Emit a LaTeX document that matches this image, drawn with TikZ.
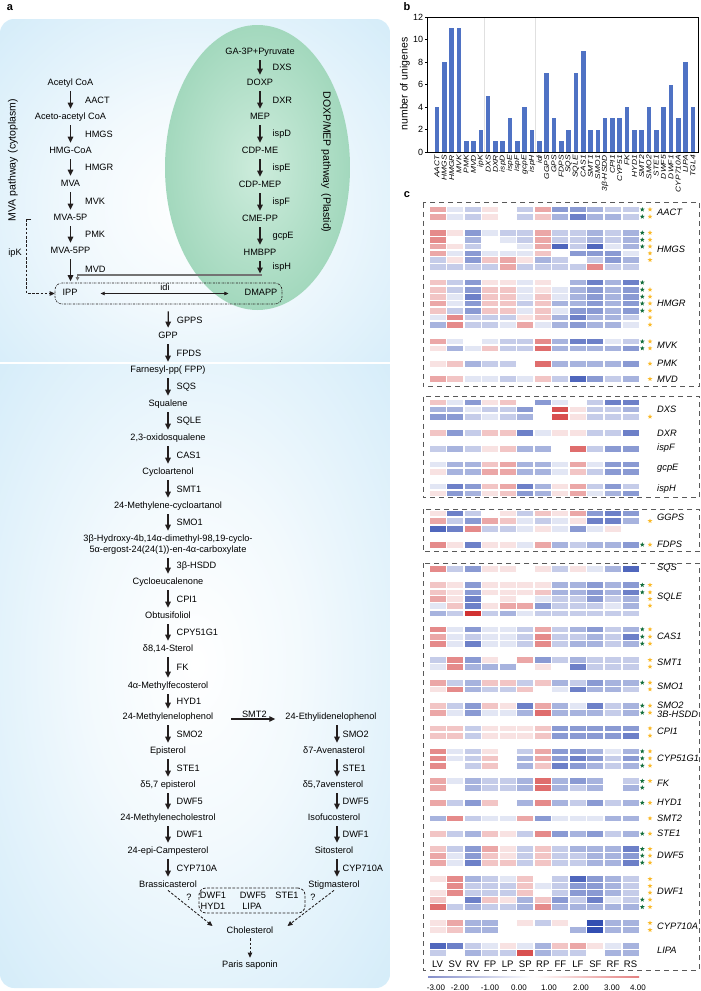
\documentclass[tikz,border=0pt]{standalone}
\usepackage{fontspec}
\setmainfont{Liberation Sans}
\usetikzlibrary{arrows.meta,shapes.geometric,calc}

\definecolor{pabg}{RGB}{192,227,246}
\colorlet{pamid}{white!80!pabg}
\definecolor{grin}{RGB}{205,236,220}
\definecolor{grout}{RGB}{120,196,158}
\definecolor{hb}{RGB}{30,60,170}
\definecolor{hr}{RGB}{205,30,30}
\definecolor{cbblue}{RGB}{10,30,150}
\definecolor{cbred}{RGB}{200,0,0}
\definecolor{barc}{RGB}{79,114,196}
\definecolor{arrc}{RGB}{35,30,30}
\definecolor{gstarc}{RGB}{20,110,60}
\definecolor{ostarc}{RGB}{250,185,40}

\pgfdeclareradialshading{bgshade}{\pgfpoint{0bp}{0bp}}{color(0bp)=(white);color(14bp)=(pamid);color(50bp)=(pabg);color(60bp)=(pabg)}
\pgfdeclareradialshading{grshade}{\pgfpoint{0bp}{0bp}}{color(0bp)=(grin);color(50bp)=(grout);color(60bp)=(grout)}
\pgfdeclarehorizontalshading{cbshade}{10bp}{color(0bp)=(cbblue);color(50bp)=(white);color(100bp)=(cbred)}

\tikzset{
  tx/.style={font=\fontsize{9.2}{10.8}\selectfont},
  comp/.style={tx, inner sep=1pt, text height=6.5pt, text depth=1.8pt},
  enz/.style={tx, inner sep=0pt, anchor=west},
  arr/.style={draw=arrc, line width=1.3pt, -{Triangle[length=6pt,width=5.5pt]}, shorten <=3pt, shorten >=3pt},
  darr/.style={draw=arrc, line width=0.85pt, dash pattern=on 2.6pt off 1.6pt, -{Triangle[length=5pt,width=4.5pt]}},
  grayl/.style={draw=black!55, line width=1.3pt},
  hmframe/.style={draw=black!65, line width=0.9pt, dash pattern=on 5pt off 4pt},
  rowlab/.style={font=\fontsize{9.3}{10}\selectfont\itshape, anchor=west, inner sep=0pt},
  gstar/.style={star, star points=5, star point ratio=2.4, fill=gstarc, inner sep=0pt, minimum size=5pt},
  ostar/.style={star, star points=5, star point ratio=2.4, fill=ostarc, inner sep=0pt, minimum size=5pt},
  plab/.style={font=\fontsize{11}{12}\selectfont\bfseries, inner sep=0pt},
}

\newcount\starno
\newcommand\hmrow[3]{%
  \foreach \v [count=\i from 0] in {#2}{%
    \ifnum\v<0 \edef\cc{hb!\the\numexpr -13*(\v)\relax!white}\else\edef\cc{hr!\the\numexpr 13*(\v)\relax!white}\fi
    \fill[fill=\cc] ({429.5+\i*17.55},{#1-2.8}) rectangle ++(16,5.6);
  }%
  \global\advance\starno by 1
  \ifcase#3\relax
  \or \node[ostar] (os\the\starno) at (650,#1) {};
  \or \node[gstar] (gs\the\starno) at (642.3,#1) {}; \node[ostar] (os\the\starno) at (650,#1) {};
  \or \node[gstar] (gs\the\starno) at (642.3,#1) {};
  \fi
}
\newcommand\pw[5]{\draw[arr] (#1) -- (#2) node[enz, midway, xshift=#5] (#3) {#4};}

\begin{document}
\begin{tikzpicture}[x=1pt,y=-1pt]
\useasboundingbox (0,0) rectangle (701,991);

% ---------------- panel a backgrounds
\begin{scope}
\clip (0,19) rectangle (390,361);
\shade[shading=bgshade, rounded corners=14pt] (0,19) rectangle (390,390);
\end{scope}
\begin{scope}
\clip (0,364) rectangle (390,988);
\shade[shading=bgshade, rounded corners=14pt] (0,340) rectangle (390,988);
\end{scope}
\shade[shading=grshade] (257.5,167.5) ellipse [x radius=92.5, y radius=142.5];

\node[plab] (la) at (10,8) {a};
\node[plab] (lb) at (407,7) {b};
\node[plab] (lc) at (407,195) {c};

\node[rotate=90, font=\fontsize{10.5}{11}\selectfont] (mvalab) at (13,160) {MVA pathway\hspace{4pt}(cytoplasm)};
\node[rotate=-90, font=\fontsize{10.5}{11}\selectfont] (doxplab) at (326,162) {DOXP/MEP pathway\hspace{5pt}(Plastid)};

% MVA column
\node[comp] (acoa) at (70.5,83) {Acetyl CoA};
\node[comp] (aacoa) at (70.5,117) {Aceto-acetyl CoA};
\node[comp] (hmgcoa) at (70.5,151) {HMG-CoA};
\node[comp] (mva) at (70.5,184) {MVA};
\node[comp] (mva5p) at (70.5,218) {MVA-5P};
\node[comp] (mva5pp) at (70.5,251) {MVA-5PP};
\pw{acoa}{aacoa}{eAACT}{AACT}{14pt}
\pw{aacoa}{hmgcoa}{eHMGS}{HMGS}{14pt}
\pw{hmgcoa}{mva}{eHMGR}{HMGR}{14pt}
\pw{mva}{mva5p}{eMVK}{MVK}{14pt}
\pw{mva5p}{mva5pp}{ePMK}{PMK}{14pt}

% DOXP column
\node[comp] (ga3p) at (260,52) {GA-3P+Pyruvate};
\node[comp] (doxp) at (260,83) {DOXP};
\node[comp] (mep) at (260,117) {MEP};
\node[comp] (cdpme) at (260,151) {CDP-ME};
\node[comp] (cdpmep) at (260,185) {CDP-MEP};
\node[comp] (cmepp) at (260,219) {CME-PP};
\node[comp] (hmbpp) at (260,253) {HMBPP};
\pw{ga3p}{doxp}{eDXS}{DXS}{12pt}
\pw{doxp}{mep}{eDXR}{DXR}{12pt}
\pw{mep}{cdpme}{eispD}{ispD}{12pt}
\pw{cdpme}{cdpmep}{eispE}{ispE}{12pt}
\pw{cdpmep}{cmepp}{eispF}{ispF}{12pt}
\pw{cmepp}{hmbpp}{egcpE}{gcpE}{12pt}

% IPP box
\node[draw=arrc, line width=0.6pt, dash pattern=on 2pt off 1pt on 0.6pt off 1pt, rounded corners=7pt, minimum width=227pt, minimum height=21pt, inner sep=0pt] (ippb) at (168.5,293.5) {};
\node[comp] (ipp) at (70,293.5) {IPP};
\node[comp] (dmapp) at (261,293.5) {DMAPP};
\draw[draw=arrc, line width=0.6pt, {Triangle[length=4pt,width=3.5pt]}-{Triangle[length=4pt,width=3.5pt]}, shorten <=22pt, shorten >=15pt] (ipp.east) -- (dmapp.west) node[midway, above=-1pt, tx, xshift=4pt] (eidi) {idi};

\draw[arr, shorten >=1.5pt] (mva5pp) -- (mva5pp |- ippb.north) node[enz, midway, xshift=14pt] (eMVD) {MVD};
\coordinate (isc) at (262,275);
\coordinate (isd) at (77.5,275);
\draw[arr, shorten >=1.5pt] (hmbpp) -- (hmbpp |- isc) node[enz, midway, xshift=12pt] (eispH) {ispH};
\draw[grayl, -{Triangle[length=3.5pt,width=3.5pt]}] (isc) -- (isd) -- ([yshift=2pt]isd |- ippb.north);

\coordinate (ipk1) at (31,219.3);
\draw[darr] (ipk1) -- ++(-4.3,0) |- (ippb.west);
\node[tx, inner sep=0pt] (eipk) at (15,253) {ipK};

% main column
\node[comp] (gpp) at (168,336) {GPP};
\node[comp] (fpp) at (168,370) {Farnesyl-pp( FPP)};
\node[comp] (squal) at (168,404) {Squalene};
\node[comp] (oxsq) at (168,438) {2,3-oxidosqualene};
\node[comp] (cycloart) at (168,472) {Cycloartenol};
\node[comp] (mcyc) at (168,506) {24-Methylene-cycloartanol};
\node[tx, align=center, inner sep=1pt] (hydroxy) at (168,544.5) {3β-Hydroxy-4b,14α-dimethyl-98,19-cyclo-\\5α-ergost-24(24(1))-en-4α-carboxylate};
\node[comp] (cycloeuc) at (168,582) {Cycloeucalenone};
\node[comp] (obtus) at (168,616) {Obtusifoliol};
\node[comp] (sterol) at (168,649) {δ8,14-Sterol};
\node[comp] (mfeco) at (168,686) {4α-Methylfecosterol};
\node[comp] (mlp) at (168,717) {24-Methylenelophenol};
\node[comp] (epist) at (168,751) {Episterol};
\node[comp] (d57) at (168,785) {δ5,7 episterol};
\node[comp] (mchol) at (168,818) {24-Methylenecholestrol};
\node[comp] (epicamp) at (168,851) {24-epi-Campesterol};
\node[comp] (brass) at (168,885) {Brassicasterol};

\draw[arr, shorten <=7pt] (ippb) -- (gpp) node[enz, midway, xshift=8pt, yshift=-3pt] (eGPPS) {GPPS};
\pw{gpp}{fpp}{eFPDS}{FPDS}{8pt}
\pw{fpp}{squal}{eSQS}{SQS}{8pt}
\pw{squal}{oxsq}{eSQLE}{SQLE}{8pt}
\pw{oxsq}{cycloart}{eCAS1}{CAS1}{8pt}
\pw{cycloart}{mcyc}{eSMT1}{SMT1}{8pt}
\pw{mcyc}{hydroxy}{eSMO1}{SMO1}{8pt}
\pw{hydroxy}{cycloeuc}{eHSDD}{3β-HSDD}{8pt}
\pw{cycloeuc}{obtus}{eCPI1}{CPI1}{8pt}
\pw{obtus}{sterol}{eCPY}{CPY51G1}{8pt}
\pw{sterol}{mfeco}{eFK}{FK}{8pt}
\pw{mfeco}{mlp}{eHYD1}{HYD1}{8pt}
\pw{mlp}{epist}{eSMO2}{SMO2}{8pt}
\pw{epist}{d57}{eSTE1}{STE1}{8pt}
\pw{d57}{mchol}{eDWF5}{DWF5}{8pt}
\pw{mchol}{epicamp}{eDWF1}{DWF1}{8pt}
\pw{epicamp}{brass}{eCYP}{CYP710A}{8pt}

% right column
\coordinate (rcx) at (337,700);
\node[comp] (elp) at (331,717) {24-Ethylidenelophenol};
\node[comp] (avena) at (334,751) {δ7-Avenasterol};
\node[comp] (d57a) at (333,785) {δ5,7avensterol};
\node[comp] (isofu) at (334,818) {Isofucosterol};
\node[comp] (sito) at (334,851) {Sitosterol};
\node[comp] (stig) at (334,885) {Stigmasterol};
\draw[arr] (elp.south -| rcx) -- (avena.north -| rcx) node[enz, midway, xshift=5pt] (rSMO2) {SMO2};
\draw[arr] (avena.south -| rcx) -- (d57a.north -| rcx) node[enz, midway, xshift=5pt] (rSTE1) {STE1};
\draw[arr] (d57a.south -| rcx) -- (isofu.north -| rcx) node[enz, midway, xshift=5pt] (rDWF5) {DWF5};
\draw[arr] (isofu.south -| rcx) -- (sito.north -| rcx) node[enz, midway, xshift=5pt] (rDWF1) {DWF1};
\draw[arr] (sito.south -| rcx) -- (stig.north -| rcx) node[enz, midway, xshift=5pt] (rCYP) {CYP710A};

\draw[arr, shorten <=17pt, shorten >=9pt] ([yshift=-2pt]mlp.east) -- ([yshift=-2pt]elp.west) node[midway, above, tx, inner sep=1pt, xshift=5pt] (eSMT2) {SMT2};

% bottom
\node[draw=arrc, line width=0.8pt, dash pattern=on 2.6pt off 1.6pt, rounded corners=7pt, minimum width=106pt, minimum height=25pt, inner sep=0pt] (qbox) at (252,900.5) {};
\node[comp] (q1) at (213,896) {DWF1};
\node[comp] (q2) at (253,896) {DWF5};
\node[comp] (q3) at (287,896) {STE1};
\node[comp] (q4) at (213,907) {HYD1};
\node[comp] (q5) at (252,907) {LIPA};
\node[comp] (qm1) at (189,898) {?};
\node[comp] (qm2) at (313,898) {?};
\node[comp] (chol) at (250,931) {Cholesterol};
\node[comp] (paris) at (250,965) {Paris saponin};
\draw[darr] (brass.south) -- ([xshift=-13pt,yshift=5pt]chol.west);
\draw[darr] (stig.south) -- ([xshift=13pt,yshift=5pt]chol.east);
\draw[darr, shorten <=2pt, shorten >=2pt] (chol) -- (paris);

% ---------------- panel b
\draw[black!12, line width=0.5pt] (484.5,17) -- (484.5,152) (535.7,17) -- (535.7,152);
\foreach \v [count=\i from 0] in {4,8,11,11,1,1,2,5,1,1,3,1,4,2,1,7,3,1,2,7,9,2,2,3,3,3,4,2,2,4,2,4,6,3,8,4}{
  \fill[barc] ({437+\i*7.31-2.3},152) rectangle ({437+\i*7.31+2.3},{152-\v*11.25});
}
\draw[black, line width=0.7pt] (427,17) rectangle (698,152);
\foreach \k in {0,2,4,6,8,10,12}{
  \draw[line width=0.6pt] (427,{152-\k*11.25}) -- ++(-2.5,0) node[left, inner sep=1pt, font=\fontsize{9}{10}\selectfont] (yt\k) {\k};
}
\node[rotate=90, font=\fontsize{10.5}{12}\selectfont] (ylab) at (405,84) {number of unigenes};
\foreach \t [count=\i from 0] in {AACT,HMGS,HMGR,MVK,PMK,MVD,ipK,DXS,DXR,ispD,ispE,ispF,gcpE,ispH,idi,GGPS,GPS,FDPS,SQS,SQLE,CAS1,SMT1,SMO1,3β-HSDD,CPI1,CYP51,FK,HYD1,SMT2,SMO2,STE1,DWF5,DWF1,CYP710A,LIPA,TGL4}{
  \node[rotate=90, anchor=east, inner sep=0pt, font=\fontsize{7}{8}\selectfont\itshape] (bl\i) at ({437+\i*7.31},155) {\scalebox{1.2}[1]{\t}};
}

% ---------------- panel c
\draw[hmframe] (423,202.7) rectangle (699.5,386.7);
\draw[hmframe] (423,396.7) rectangle (699.5,497.7);
\draw[hmframe] (423,509) rectangle (699.5,551.7);
\draw[hmframe] (423,563.3) rectangle (699.5,970);

% AACT
\hmrow{209.5}{3,-1,-2,1,0,-2,3,-4,-4,-3,-2,-2}{2}
\hmrow{216.7}{3,-1,-2,1,0,-2,2,-3,-5,-3,-3,-2}{2}
% HMGS
\hmrow{232.8}{4,1,-4,-1,-2,-2,3,-2,-2,-3,-2,-3}{2}
\hmrow{239.8}{4,0,-3,0,-1,-2,3,-2,-2,-3,-2,-3}{2}
\hmrow{246.5}{3,1,-2,0,0,-1,3,-6,-2,-6,-1,-3}{2}
\hmrow{253.3}{3,-1,-4,-1,-1,-1,2,0,-4,-4,-4,-1}{1}
\hmrow{260}{-2,1,-4,2,3,1,-3,-2,0,-2,-4,-3}{1}
\hmrow{266.8}{-2,-2,-2,-2,3,-2,-2,-2,-2,4,-2,-2}{0}
% HMGR
\hmrow{282.5}{2,-2,-4,1,1,-1,1,0,-3,-5,-3,-5}{3}
\hmrow{289.7}{2,-2,-4,2,2,-1,1,-1,-3,-4,-3,-4}{2}
\hmrow{296.7}{2,-1,-5,2,2,-1,2,-1,-3,-4,-3,-4}{2}
\hmrow{303.5}{3,-1,-4,2,2,-2,2,-3,-3,-4,-3,-4}{2}
\hmrow{310.7}{2,-2,-4,2,2,-1,2,-1,-4,-4,-3,-4}{2}
\hmrow{317.5}{-1,4,-2,-2,-2,1,2,-3,-5,-3,-3,-2}{1}
\hmrow{324.7}{-3,4,-2,-2,-1,3,-1,-3,-4,-3,-3,-1}{1}
% MVK PMK MVD
\hmrow{341.5}{3,-1,0,-1,-2,-2,4,-3,-5,-5,-1,-2}{2}
\hmrow{348.3}{1,-3,-1,2,-2,-2,5,-3,-3,-3,-3,-4}{2}
\hmrow{363.7}{1,2,-3,-2,-2,0,5,-3,-3,-3,-3,-4}{1}
\hmrow{379}{3,2,-1,-1,-2,-1,2,-2,-6,-4,-2,-3}{1}
% DXS DXR ispF gcpE ispH
\hmrow{402.3}{2,-1,-4,1,2,0,-4,-1,0,-2,-5,-5}{0}
\hmrow{409.3}{-3,-3,-1,-2,-2,-4,0,6,1,-2,-2,-3}{0}
\hmrow{416.7}{-4,-4,-2,-1,-2,-3,0,6,1,-2,-2,-2}{1}
\hmrow{433}{2,-4,-2,2,2,-5,-1,1,1,-2,-2,-5}{0}
\hmrow{448.7}{-2,-3,-2,1,2,-3,-3,0,5,-2,-4,-4}{0}
\hmrow{464.3}{-1,-3,-3,2,3,-3,-3,-1,3,-1,-4,-4}{0}
\hmrow{471.7}{1,-3,-3,3,3,-3,-3,-1,2,-2,-4,-4}{0}
\hmrow{486.3}{-1,-5,-4,2,3,-5,-3,1,3,-2,-4,-2}{0}
\hmrow{493.3}{1,-4,-3,1,2,-4,-3,1,3,-1,-3,-4}{0}
% GGPS FDPS
\hmrow{513.3}{1,-5,-2,0,1,-2,2,1,3,-4,-5,-4}{0}
\hmrow{521}{3,-2,-4,3,2,-1,-2,-1,1,-5,-5,-3}{1}
\hmrow{529}{-6,-5,4,-2,-2,-1,1,-1,-4,-1,1,0}{0}
\hmrow{544.7}{4,1,-5,1,1,-1,3,-3,-2,-3,-3,-4}{2}
% SQS SQLE
\hmrow{569}{4,-2,-4,1,1,0,1,-2,1,-1,-3,-6}{0}
\hmrow{585}{2,1,-4,1,1,1,1,-3,-3,-4,-3,-4}{2}
\hmrow{592.3}{2,1,-4,1,1,1,2,-3,-3,-4,-3,-5}{2}
\hmrow{599}{3,1,-5,0,1,0,-1,-2,-2,-4,-2,-3}{1}
\hmrow{605.7}{-1,2,-5,1,3,3,-4,-2,-2,-2,-1,-3}{1}
\hmrow{613.3}{-3,-2,7,-2,-3,-1,-2,-2,-2,-2,-2,-2}{0}
% CAS1
\hmrow{629.3}{4,-1,-4,-1,-1,-2,3,-2,-3,-4,-2,-3}{2}
\hmrow{636.7}{3,-1,-2,-1,-1,-2,4,-2,-2,-3,-2,-5}{2}
\hmrow{643.7}{4,-1,-5,-1,-1,-2,4,-2,-3,-3,-2,-3}{2}
% SMT1 SMO1
\hmrow{660}{-2,4,-4,1,0,3,-4,-2,-3,-2,-2,-2}{1}
\hmrow{666.7}{-1,4,-3,-3,-3,0,1,0,-5,-2,-2,-2}{1}
\hmrow{682.7}{3,-2,-3,2,2,-2,2,-3,-2,-4,-3,-3}{2}
\hmrow{689.3}{1,4,-3,-2,-2,2,0,-1,-5,-3,-3,-2}{1}
% SMO2 3B-HSDD
\hmrow{705.7}{2,-2,-4,2,1,-5,3,-3,-1,-5,-2,-3}{2}
\hmrow{712.7}{3,-1,-4,-1,-1,-3,5,-3,-3,-3,-2,-3}{2}
% CPI1
\hmrow{728.3}{2,2,-2,1,1,1,2,-4,-4,-4,-4,-4}{1}
\hmrow{735.7}{2,2,-2,1,1,1,2,-4,-4,-4,-4,-5}{1}
% CYP51G1
\hmrow{751.3}{4,-1,-2,1,0,-2,3,-4,-4,-3,-1,-3}{2}
\hmrow{758.3}{4,-1,-2,2,0,-3,3,-4,-5,-4,-2,-4}{2}
\hmrow{765.7}{4,0,-2,2,0,-3,2,-5,-4,-3,-2,-3}{2}
% FK HYD1 SMT2 STE1
\hmrow{781}{3,-1,-3,-2,-2,-3,5,-3,-4,-3,0,-2}{2}
\hmrow{787.7}{3,0,-3,-2,-2,-3,5,-3,-2,-3,0,-3}{3}
\hmrow{802.8}{3,-2,-4,2,0,-3,4,-3,-2,-4,-2,-3}{2}
\hmrow{818.3}{-3,4,-2,-1,-1,3,-4,-1,-1,-1,-3,-3}{1}
\hmrow{833.7}{2,-2,-3,2,1,-2,4,-4,-3,-4,-2,-3}{2}
% DWF5
\hmrow{849}{2,-2,-4,3,1,-2,2,-2,-3,-3,-3,-5}{2}
\hmrow{855.7}{3,-1,-4,2,1,-2,2,-2,-2,-3,-3,-4}{2}
\hmrow{862.7}{3,-1,-5,2,2,-2,2,-2,-2,-3,-3,-5}{2}
% DWF1
\hmrow{879}{1,4,-3,-2,-1,2,0,-2,-6,-4,-3,-2}{1}
\hmrow{886}{0,4,-2,-2,-2,2,-1,-2,-4,-4,-3,-2}{1}
\hmrow{892.7}{1,4,-2,-2,-2,2,0,-2,-4,-4,-3,-2}{1}
\hmrow{899.7}{2,0,-5,2,1,-3,2,-4,-2,-5,-1,-2}{2}
\hmrow{907}{5,-2,-3,-2,-2,-3,4,-3,-3,-3,-3,-3}{2}
% CYP710A LIPA
\hmrow{923}{1,3,-3,-3,0,1,-2,1,0,-7,-3,-3}{1}
\hmrow{930}{1,2,-3,-3,0,0,0,0,-3,-7,-3,-3}{1}
\hmrow{945.7}{-6,-5,-2,-1,1,-1,-3,2,3,1,-1,-3}{0}
\hmrow{952.7}{-2,0,-3,-2,-2,6,-3,-2,-2,0,-3,-3}{0}

% row labels
\foreach \yy/\lab [count=\n] in {212.5/AACT,249.5/HMGS,303.5/HMGR,345/MVK,363.5/PMK,379/MVD,409.3/DXS,433/DXR,448/ispF,468/gcpE,489.5/ispH,517/GGPS,544.5/FDPS,568/SQS,597/SQLE,636.5/CAS1,662.5/SMT1,686/SMO1,705/SMO2,714/3B-HSDD,731.5/CPI1,758.3/CYP51G1,783/FK,802/HYD1,818/SMT2,833.5/STE1,855.7/DWF5,891.7/DWF1,926.5/CYP710A,950/LIPA}{
  \node[rowlab] (rl\n) at (657,\yy) {\lab};
}
% column labels
\foreach \t [count=\i from 0] in {LV,SV,RV,FP,LP,SP,RP,FF,LF,SF,RF,RS}{
  \node[font=\fontsize{9.5}{10}\selectfont, inner sep=0pt] (cl\i) at ({437.5+\i*17.55},964) {\t};
}
% colour bar
\shade[shading=cbshade] (428,974) rectangle (639,980);
\foreach \xx/\t [count=\n] in {436/-3.00,460/-2.00,490/-1.00,519/0.00,549/1.00,581/2.00,612/3.00,638/4.00}{
  \node[font=\fontsize{8}{9}\selectfont, inner sep=0pt] (cb\n) at (\xx,987.5) {\t};
}
\end{tikzpicture}
\end{document}
